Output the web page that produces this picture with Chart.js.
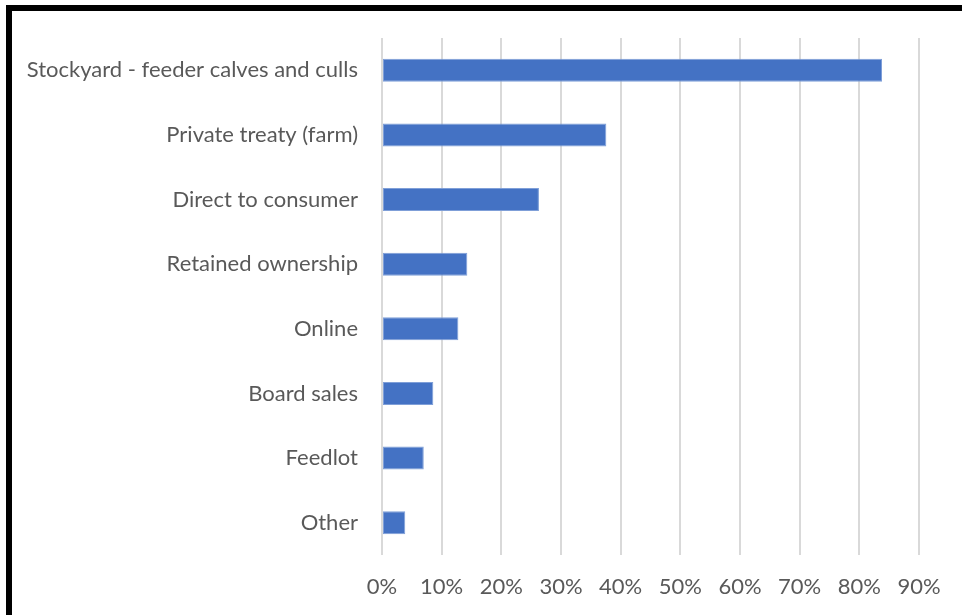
<!DOCTYPE html>
<html>
<head>
<meta charset="utf-8">
<script src="https://cdn.jsdelivr.net/npm/chart.js@4"></script>
<style>
  html, body { margin: 0; padding: 0; background: #fff; }
  #wrap { position: relative; width: 962px; height: 615px; overflow: hidden; }
  #frame {
    position: absolute; left: 6px; top: 5px; width: 1000px; height: 700px;
    border-top: 6px solid #000; border-left: 6px solid #000;
    box-sizing: border-box; pointer-events: none;
  }
  canvas { position: absolute; left: 0; top: 0; }
</style>
</head>
<body>
<div id="wrap">
  <canvas id="chart" width="962" height="615"></canvas>
  <div id="frame"></div>
</div>
<script>
var channels = [
  'Stockyard - feeder calves and culls',
  'Private treaty (farm)',
  'Direct to consumer',
  'Retained ownership',
  'Online',
  'Board sales',
  'Feedlot',
  'Other'
];
var shares = [83.8, 37.6, 26.3, 14.3, 12.8, 8.6, 7.0, 3.9];
var percentTicks = [0, 10, 20, 30, 40, 50, 60, 70, 80, 90];

document.addEventListener('DOMContentLoaded', function() {
    var ctx = document.getElementById('chart').getContext('2d');
    var labelFont = { family: 'Lato, "Noto Sans", sans-serif', size: 22 };

    new Chart(ctx, {
        type: 'bar',
        data: {
            labels: channels,
            datasets: [{
                data: shares,
                backgroundColor: '#4472c4',
                borderColor: '#7f9fd8',
                borderWidth: 1,
                borderSkipped: false,
                barPercentage: 0.355,
                categoryPercentage: 1
            }]
        },
        options: {
            indexAxis: 'y',
            responsive: false,
            animation: false,
            layout: { padding: { top: 38, right: 43, bottom: 0, left: 0 } },
            plugins: {
                legend: { display: false },
                tooltip: { enabled: false }
            },
            scales: {
                x: {
                    min: 0,
                    max: 90,
                    afterBuildTicks: function(scale) {
                        scale.ticks = percentTicks.map(function(v) { return { value: v }; });
                    },
                    afterFit: function(scale) { scale.height = 60; },
                    grid: { color: '#d9d9d9', lineWidth: 2, drawTicks: false },
                    border: { display: false },
                    ticks: {
                        color: '#595959',
                        font: labelFont,
                        padding: 19,
                        maxRotation: 0,
                        callback: function(v) { return v + '%'; }
                    }
                },
                y: {
                    afterFit: function(scale) { scale.width = 382; },
                    grid: { display: false },
                    border: { display: false },
                    ticks: {
                        color: '#595959',
                        font: labelFont,
                        padding: 16
                    }
                }
            }
        }
    });
});
</script>
</body>
</html>
